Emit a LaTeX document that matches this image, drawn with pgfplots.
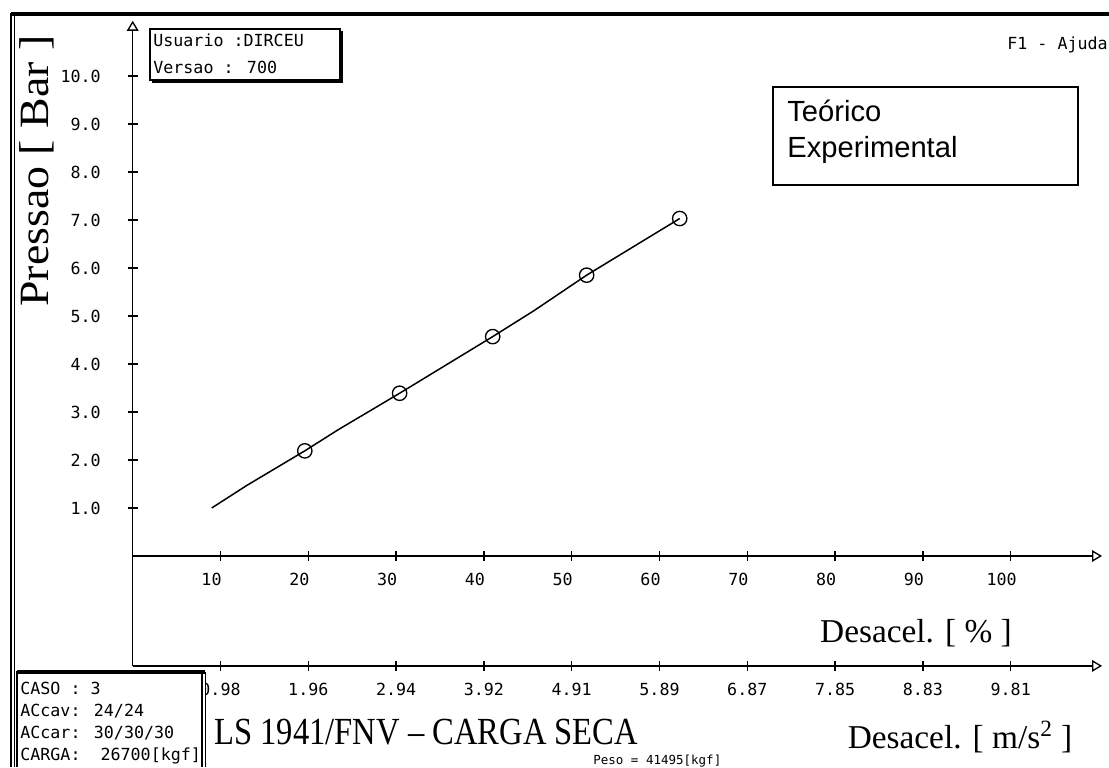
\documentclass[border=0pt]{standalone}
\usepackage{pgfplots}
\pgfplotsset{compat=1.18}
\usetikzlibrary{arrows.meta}
\usepackage{fontspec}
\setmainfont{Liberation Serif}
\newfontfamily\monof{DejaVu Sans Mono}
\newfontfamily\sansf{Liberation Sans}
\newcommand{\pxfont}{\monof\fontsize{10}{11}\selectfont}
\begin{document}
\begin{tikzpicture}
\useasboundingbox (0,0) rectangle (665.4pt,460.2pt);
\fill[white] (0,0) rectangle (665.4pt,460.2pt);

\begin{axis}[
  at={(79.62pt,60.66pt)}, anchor=south west,
  x=5.268pt, y=28.8pt,
  xmin=0, xmax=110.4, ymin=-2.29, ymax=11.15,
  axis lines=middle,
  axis line style={line width=0.9pt},
  x axis line style={-{Triangle[open,length=6pt,width=7pt,line width=0.8pt]}},
  y axis line style={-{Triangle[open,length=6pt,width=7pt,line width=0.8pt]}},
  xtick={10,20,...,100}, ytick={1,2,...,10},
  tick align=center, major tick length=6pt,
  every tick/.style={black, line width=0.8pt},
  /pgf/number format/assume math mode=true,
  yticklabel={\pgfmathprintnumber[fixed,fixed zerofill,precision=1]{\tick}},
  xticklabel style={font=\pxfont, anchor=north, inner sep=0pt, yshift=-7pt, xshift=-5.4pt},
  yticklabel style={font=\pxfont, anchor=east, inner sep=0pt, xshift=-16pt},
  clip=false,
]
% Teorico
\addplot[black, line width=0.9pt] coordinates {(9,1.0) (13,1.47) (19.6,2.19) (23.4,2.63) (30.4,3.39) (41,4.57) (45.7,5.11) (51.7,5.85) (62.3,7.03)};
% Experimental
\addplot[black, only marks, mark=o, mark size=4.3pt, line width=0.8pt] coordinates {(19.6,2.19) (30.4,3.39) (41,4.57) (51.7,5.85) (62.3,7.03)};
\end{axis}

\begin{axis}[
  at={(79.62pt,60.66pt)}, anchor=south west,
  x=5.268pt, y=10pt,
  xmin=0, xmax=110.4, ymin=0, ymax=1,
  axis x line=bottom, axis y line=none,
  x axis line style={line width=0.9pt, -{Triangle[open,length=6pt,width=7pt,line width=0.8pt]}},
  xtick={10,20,...,100},
  xticklabels={0.98,1.96,2.94,3.92,4.91,5.89,6.87,7.85,8.83,9.81},
  tick align=center, major tick length=6pt,
  every tick/.style={black, line width=0.8pt},
  xticklabel style={font=\pxfont, anchor=north, inner sep=0pt, yshift=-7pt},
]
\end{axis}

\begin{scope}[x=0.6pt,y=0.6pt]
% window frame
\draw[line width=2.4pt] (11,753) -- (1109,753);
\draw[line width=1.2pt] (11,754) -- (11,0);
\draw[line width=0.6pt] (14.5,752) -- (14.5,0);

% axis titles
\node[rotate=90, inner sep=0pt] at (37,596) {\scalebox{1.1}[1]{\fontsize{25}{25}\selectfont Pressao [ Bar ]}};
\node[inner sep=0pt] at (916,134) {\fontsize{20}{20}\selectfont Desacel. [ \% ]};
\node[inner sep=0pt] at (960,30) {\fontsize{20}{20}\selectfont Desacel. [ m/s\textsuperscript{2} ]};
\node[inner sep=0pt, anchor=west] at (214,35) {\scalebox{0.85}[1]{\fontsize{23}{23}\selectfont LS 1941/FNV -- CARGA SECA}};
\node[inner sep=0pt, anchor=base west] at (593,3) {\monof\fontsize{7.5}{8}\selectfont Peso = 41495[kgf]};

% user box
\draw[line width=0.7pt] (150,738) rectangle (340,687);
\draw[line width=1.4pt] (342,736) -- (342,685) -- (152,685);
\node[inner sep=0pt, anchor=base west] at (153,720) {\pxfont Usuario :DIRCEU};
\node[inner sep=0pt, anchor=base west] at (153,693) {\pxfont Versao : 700};

% help
\node[inner sep=0pt, anchor=base west] at (1007,717) {\pxfont F1 - Ajuda};

% legend box
\draw[line width=0.8pt] (773,680) rectangle (1078,582);
\node[inner sep=0pt, anchor=base west] at (787,645) {\sansf\fontsize{17.5}{18}\selectfont Teórico};
\node[inner sep=0pt, anchor=base west] at (787,609) {\sansf\fontsize{17.5}{18}\selectfont Experimental};

% case box
\fill[white] (17,96) rectangle (206,0);
\draw[line width=2pt] (17,95) -- (205,95);
\draw[line width=0.8pt] (17,96) -- (17,0);
\draw[line width=0.8pt] (202,95) -- (202,0);
\draw[line width=0.8pt] (205.5,95) -- (205.5,0);
\node[inner sep=0pt, anchor=base west] at (20,73) {\pxfont CASO : 3};
\node[inner sep=0pt, anchor=base west] at (20,51) {\pxfont ACcav: 24/24};
\node[inner sep=0pt, anchor=base west] at (20,29) {\pxfont ACcar: 30/30/30};
\node[inner sep=0pt, anchor=base west] at (20,7) {\pxfont CARGA:\ \ 26700[kgf]};
\end{scope}
\end{tikzpicture}
\end{document}
